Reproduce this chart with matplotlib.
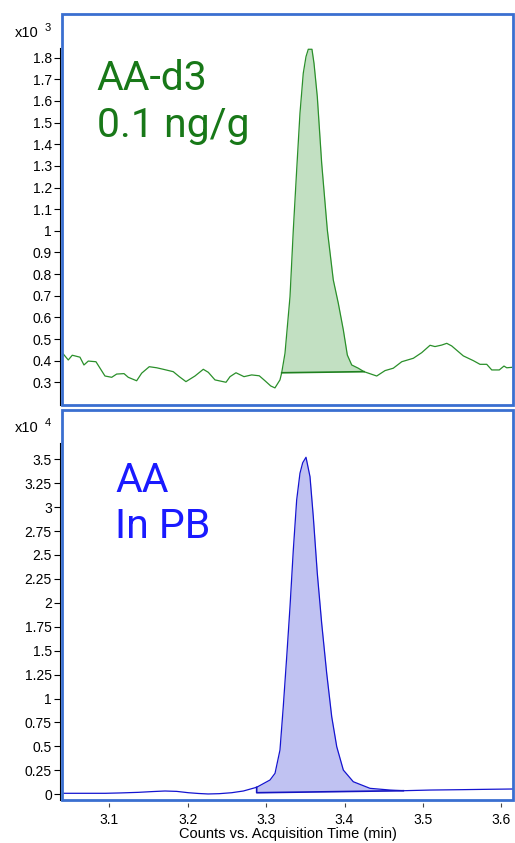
import numpy as np
import matplotlib
matplotlib.use("Agg")
import matplotlib.pyplot as plt
from matplotlib.patches import Rectangle

# retention time (min) and counts for the AA-d3 trace (x10^3)
d3_time = [3.0413, 3.0477, 3.0528, 3.0626, 3.0677, 3.0732, 3.0830, 3.0945, 3.1031, 3.1094,
           3.1188, 3.1242, 3.1349, 3.1413, 3.1510, 3.1605, 3.1689, 3.1816, 3.1893, 3.1978,
           3.2093, 3.2199, 3.2263, 3.2348, 3.2489, 3.2540, 3.2616, 3.2718, 3.2816, 3.2913,
           3.2986, 3.3059, 3.3113, 3.3177, 3.3199, 3.3241, 3.3305, 3.3347, 3.3390, 3.3432,
           3.3474, 3.3509, 3.3538, 3.3585, 3.3611, 3.3653, 3.3709, 3.3781, 3.3857, 3.3921,
           3.3985, 3.4036, 3.4092, 3.4176, 3.4249, 3.4411, 3.4517, 3.4622, 3.4730, 3.4878,
           3.4985, 3.5091, 3.5154, 3.5240, 3.5304, 3.5367, 3.5515, 3.5643, 3.5728, 3.5814,
           3.5878, 3.5974, 3.6034, 3.6069, 3.6133]
d3_counts = [0.431, 0.403, 0.425, 0.416, 0.380, 0.398, 0.395, 0.329, 0.323, 0.338,
             0.340, 0.323, 0.307, 0.342, 0.372, 0.367, 0.360, 0.349, 0.326, 0.303,
             0.329, 0.360, 0.346, 0.311, 0.300, 0.326, 0.344, 0.326, 0.334, 0.330,
             0.307, 0.283, 0.274, 0.311, 0.344, 0.434, 0.696, 1.004, 1.281, 1.543,
             1.728, 1.805, 1.839, 1.839, 1.774, 1.620, 1.312, 1.004, 0.773, 0.665,
             0.542, 0.426, 0.380, 0.365, 0.349, 0.329, 0.354, 0.365, 0.395, 0.411,
             0.437, 0.471, 0.465, 0.472, 0.480, 0.468, 0.422, 0.400, 0.383, 0.383,
             0.357, 0.357, 0.375, 0.367, 0.369]
d3_base_t = [3.3199, 3.4249]
d3_base_v = [0.344, 0.349]

# AA trace (x10^4)
aa_time = [3.040, 3.070, 3.095, 3.115, 3.137, 3.155, 3.171, 3.186, 3.201, 3.214,
           3.226, 3.240, 3.256, 3.271, 3.288, 3.305, 3.3114, 3.3177, 3.3219, 3.3263,
           3.3305, 3.3347, 3.3390, 3.3432, 3.3467, 3.3509, 3.3560, 3.3602, 3.3653, 3.3709,
           3.3773, 3.3837, 3.3901, 3.3985, 3.4112, 3.4325, 3.4580, 3.4750, 3.5091, 3.550,
           3.585, 3.615]
aa_counts = [0.010, 0.010, 0.010, 0.014, 0.020, 0.028, 0.034, 0.030, 0.016, 0.008,
             0.003, 0.006, 0.016, 0.034, 0.073, 0.149, 0.219, 0.462, 0.915, 1.437,
             1.960, 2.552, 3.075, 3.354, 3.464, 3.521, 3.318, 2.900, 2.309, 1.786,
             1.264, 0.810, 0.497, 0.253, 0.131, 0.062, 0.044, 0.037, 0.044, 0.048,
             0.052, 0.055]
aa_base_t = [3.288, 3.475]
aa_base_v = [0.016, 0.037]

d3_ticks = [0.3, 0.4, 0.5, 0.6, 0.7, 0.8, 0.9, 1.0, 1.1, 1.2, 1.3, 1.4, 1.5, 1.6, 1.7, 1.8]
aa_ticks = [0, 0.25, 0.5, 0.75, 1, 1.25, 1.5, 1.75, 2, 2.25, 2.5, 2.75, 3, 3.25, 3.5]
x_ticks = [3.1, 3.2, 3.3, 3.4, 3.5, 3.6]

W, H = 515, 843
FRAME = "#3a6fd0"
TICKFONT = ["Liberation Sans", "DejaVu Sans"]


def px(x, y):
    return x / W, 1 - y / H


def panel(rect_px, ylim, spine_top, ticks):
    x0, y0, x1, y1 = rect_px
    ax = fig.add_axes([x0 / W, 1 - y1 / H, (x1 - x0) / W, (y1 - y0) / H])
    ax.set_xlim(3.0397, 3.6149)
    ax.set_ylim(*ylim)
    for s in ["top", "right"]:
        ax.spines[s].set_visible(False)
    ax.spines["bottom"].set_position(("outward", 2.2))
    ax.spines["bottom"].set_visible(False)
    ax.spines["left"].set_position(("outward", 1.8))
    ax.spines["left"].set_color("black")
    ax.spines["left"].set_linewidth(0.8)
    ax.spines["left"].set_bounds(ylim[0], spine_top)
    ax.set_yticks(ticks)
    ax.set_yticklabels(["%g" % t for t in ticks], family=TICKFONT, fontsize=10)
    ax.tick_params(axis="y", length=4.3, width=0.8, pad=1.2, color="black")
    ax.add_patch(Rectangle((0, 0), 1, 1, transform=ax.transAxes, fill=False,
                           edgecolor=FRAME, lw=2.0, clip_on=False, zorder=5))
    return ax


def label(ax, x, y, s, color):
    ax.text(x, y, s, transform=ax.transAxes, color=color, family="Roboto",
            fontsize=29.5, va="baseline", ha="left")


fig = plt.figure(figsize=(W / 100, H / 100), dpi=100)

# top panel: AA-d3
ax1 = panel((62, 14, 513, 405), (0.195, 2.002), 1.845, d3_ticks)
ax1.set_xticks([])
t1 = np.array(d3_time)
v1 = np.array(d3_counts)
m1 = (t1 >= d3_base_t[0]) & (t1 <= d3_base_t[1])
ax1.fill_between(t1[m1], np.interp(t1[m1], d3_base_t, d3_base_v), v1[m1],
                 color="#c2e0c2", lw=0)
ax1.plot(t1, v1, color="#2a8f2a", lw=0.9)
ax1.plot(d3_base_t, d3_base_v, color="#1f801f", lw=1.2)
label(ax1, 0.077, 0.806, "AA-d3", "#187818")
label(ax1, 0.077, 0.686, "0.1 ng/g", "#187818")

# bottom panel: AA
ax2 = panel((62, 410, 513, 800), (-0.060, 4.015), 3.667, aa_ticks)
t2 = np.array(aa_time)
v2 = np.array(aa_counts)
m2 = (t2 >= aa_base_t[0]) & (t2 <= aa_base_t[1])
ax2.fill_between(t2[m2], np.interp(t2[m2], aa_base_t, aa_base_v), v2[m2],
                 color="#c0c2f2", lw=0)
ax2.plot(t2, v2, color="#1414d0", lw=0.9)
ax2.plot([aa_base_t[0], aa_base_t[0], aa_base_t[1]],
         [aa_counts[list(aa_time).index(aa_base_t[0])], aa_base_v[0], aa_base_v[1]],
         color="#1414c0", lw=1.2)
label(ax2, 0.1175, 0.7905, "AA", "#1a1aff")
label(ax2, 0.1175, 0.671, "In PB", "#1a1aff")
ax2.set_xticks(x_ticks)
ax2.set_xticklabels(["%g" % t for t in x_ticks], family=TICKFONT, fontsize=10)
ax2.tick_params(axis="x", length=3, width=0.8, pad=4, color="#444444")
ax2.set_xlabel("Counts vs. Acquisition Time (min)", family=TICKFONT,
               fontsize=10.5, labelpad=0.5)

# multiplier labels
for y_base, exp in [(36.7, "3"), (432.3, "4")]:
    fig.text(*px(15, y_base), "x10", family=TICKFONT, fontsize=10.5,
             va="baseline", ha="left")
    fig.text(*px(44.5, y_base - 6), exp, family=TICKFONT, fontsize=8,
             va="baseline", ha="left")

fig.savefig("out.png", dpi=100)
